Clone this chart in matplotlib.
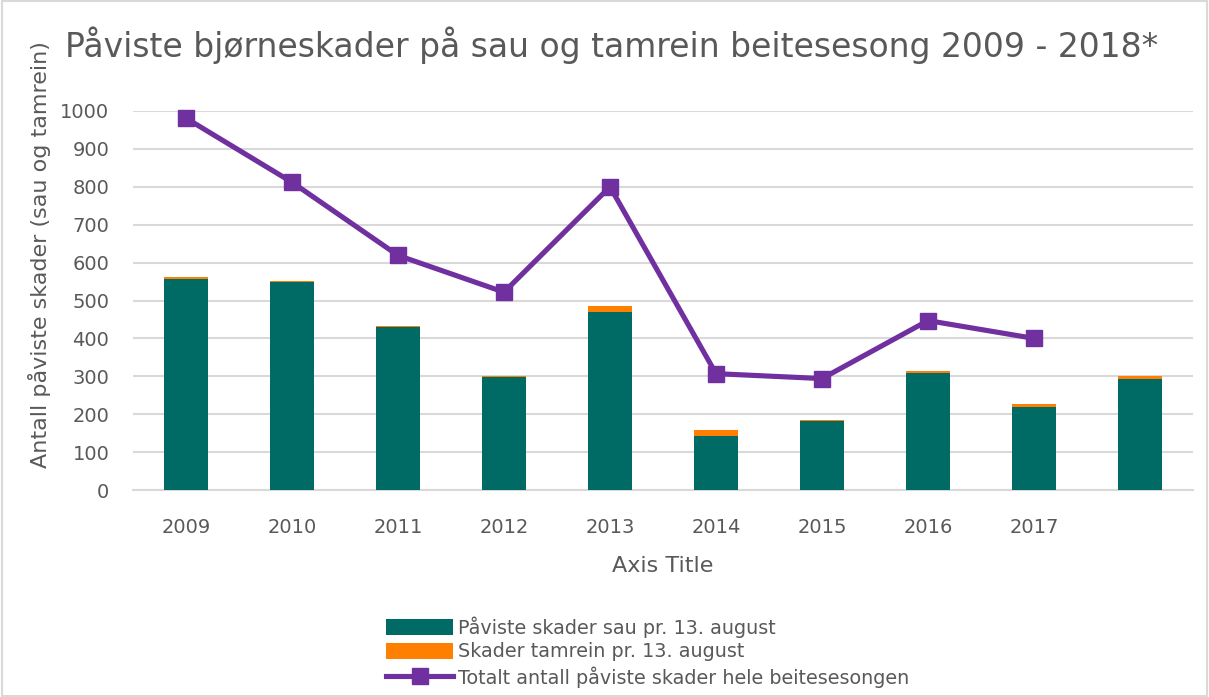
import matplotlib
matplotlib.use("Agg")
import matplotlib.pyplot as plt
from matplotlib.patches import Rectangle
import numpy as np

plt.rcParams['font.family'] = ['DejaVu Sans']

categories = ["2009", "2010", "2011", "2012", "2013", "2014", "2015", "2016", "2017", ""]
sau = [556, 548, 429, 297, 469, 143, 181, 310, 220, 294]
tamrein = [7, 4, 3, 5, 16, 16, 5, 3, 6, 8]
total = [981, 812, 619, 522, 800, 307, 294, 447, 400, None]

title = "Påviste bjørneskader på sau og tamrein beitesesong 2009 - 2018*"
ylabel = "Antall påviste skader (sau og tamrein)"
xlabel = "Axis Title"
legend_labels = ["Påviste skader sau pr. 13. august",
                 "Skader tamrein pr. 13. august",
                 "Totalt antall påviste skader hele beitesesongen"]

TEAL = "#006B64"
ORANGE = "#FF7F00"
PURPLE = "#7030A0"
GRAY = "#595959"

W, H = 1209, 697
fig = plt.figure(figsize=(W / 100, H / 100), dpi=100)
ax = fig.add_axes([133 / W, 1 - 490 / H, (1193 - 133) / W, (490 - 111) / H])

x = np.arange(len(categories))
b1 = ax.bar(x, sau, width=0.41, color=TEAL, zorder=3)
b2 = ax.bar(x, tamrein, width=0.41, bottom=sau, color=ORANGE, zorder=3)
tx = [i for i, v in enumerate(total) if v is not None]
ty = [v for v in total if v is not None]
l1, = ax.plot(tx, ty, color=PURPLE, lw=3.7, marker='s', markersize=11, zorder=4, clip_on=False)

ax.set_xlim(-0.5, len(categories) - 0.5)
ax.set_ylim(0, 1000)
ax.set_yticks(range(0, 1001, 100))
ax.set_xticks(x)
ax.set_xticklabels(categories)
ax.tick_params(axis='both', length=0, labelsize=14, colors=GRAY)
ax.tick_params(axis='x', pad=20)
ax.tick_params(axis='y', pad=17)
ax.grid(axis='y', color='#D9D9D9', lw=1.5, zorder=0)
for s in ['top', 'right', 'left']:
    ax.spines[s].set_visible(False)
ax.spines['bottom'].set_color('#D9D9D9')
ax.spines['bottom'].set_linewidth(1.5)

ax.set_xlabel(xlabel, fontsize=16, color=GRAY, labelpad=14)
fig.text(40 / W, 1 - 255 / H, ylabel, fontsize=16, color=GRAY, rotation=90,
         ha='center', va='center')

fig.text(65 / W, 1 - 45 / H, title, fontsize=23.8, color=GRAY, ha='left', va='center')

leg = fig.legend([b1, b2, l1], legend_labels, loc='upper left',
                 bbox_to_anchor=(386 / W, 1 - 616 / H), frameon=False, fontsize=13.8,
                 labelcolor=GRAY, handlelength=3.5, handleheight=0.9, handletextpad=0.25,
                 labelspacing=0.25, borderaxespad=0, borderpad=0)

fig.patches.append(Rectangle((0.002, 0.002), 0.996, 0.996, transform=fig.transFigure,
                             fill=False, edgecolor='#D9D9D9', lw=1.5))

fig.savefig("out.png", dpi=100)
